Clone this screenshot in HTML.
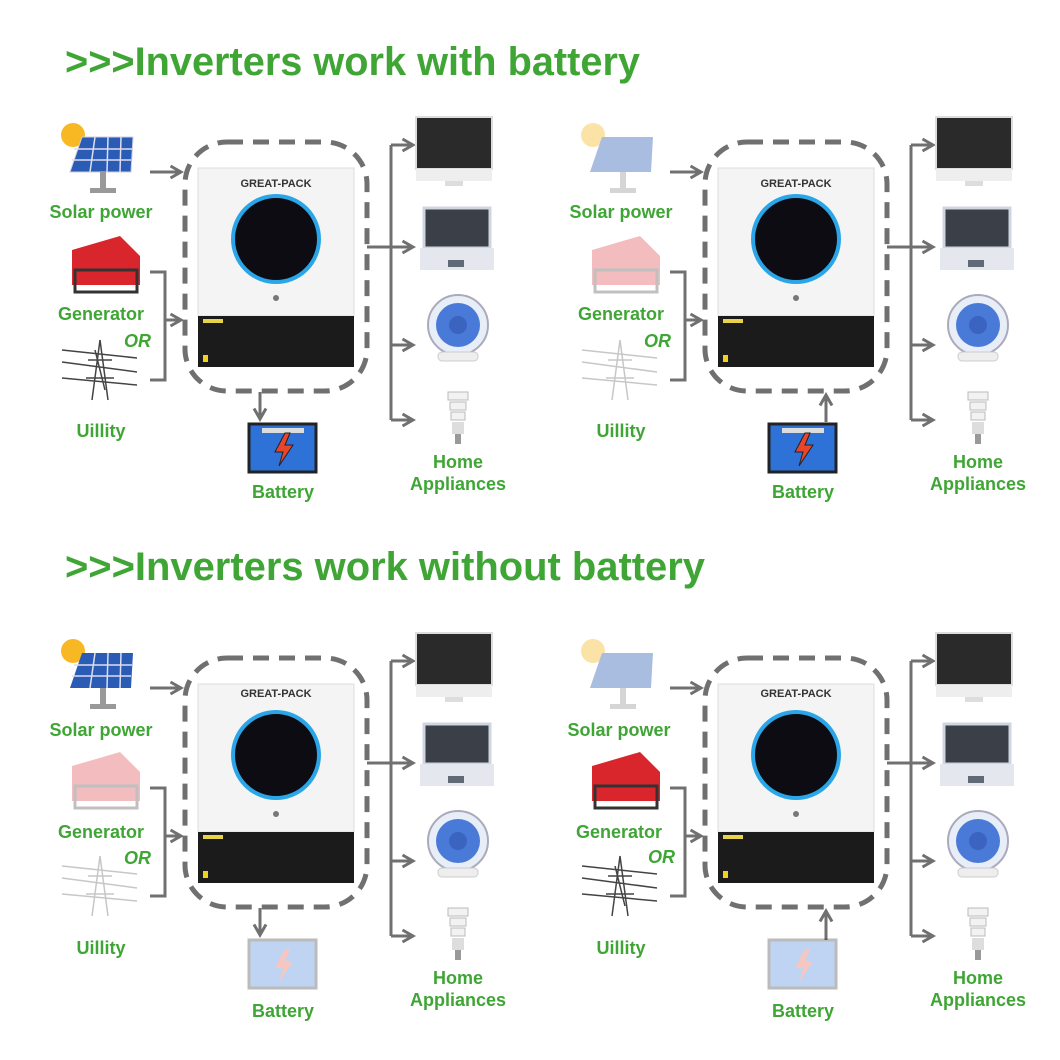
<!DOCTYPE html>
<html><head><meta charset="utf-8"><style>
html,body{margin:0;padding:0;background:#fff;}
svg{display:block}
.g{fill:#3fa535;font-family:"Liberation Sans",sans-serif;font-weight:bold;}
.t{font-size:18px;text-anchor:middle}
.ln{stroke:#707070;stroke-width:3;fill:none}
.dash{stroke:#707070;stroke-width:5;fill:none;stroke-dasharray:16 10}
</style></head><body>
<svg width="1060" height="1060" viewBox="0 0 1060 1060" xmlns="http://www.w3.org/2000/svg">
<defs>
<marker id="ah" viewBox="0 0 10 10" refX="8" refY="5" markerWidth="5" markerHeight="5" orient="auto"><path d="M1 1 L8 5 L1 9" fill="none" stroke="#707070" stroke-width="2"/></marker>
</defs>
<text x="65" y="75" class="g" font-size="40" textLength="575" lengthAdjust="spacingAndGlyphs">&gt;&gt;&gt;Inverters work with battery</text>
<text x="65" y="580" class="g" font-size="40" textLength="640" lengthAdjust="spacingAndGlyphs">&gt;&gt;&gt;Inverters work without battery</text>

<!-- PANEL TL -->
<g transform="translate(0,0)">
 <g opacity="1"><circle cx="73" cy="135" r="12" fill="#f7b824"/><path d="M70 172 L82 137 L133 137 L131 172Z" fill="#2a5bb5" stroke="#ccd" /><path d="M74 149H132M72 160H131M95 137L90 172M108 137L107 172M121 137L120 172" stroke="#dde" stroke-width="1.5"/><rect x="100" y="172" width="6" height="16" fill="#999"/><rect x="90" y="188" width="26" height="5" fill="#999"/></g>
 <text x="101" y="218" class="g t">Solar power</text>
 <g opacity="1"><path d="M72 250 L120 236 L140 256 L140 285 L72 285Z" fill="#d8262c"/><rect x="75" y="270" width="62" height="22" fill="none" stroke="#333" stroke-width="3"/></g>
 <text x="101" y="320" class="g t">Generator</text>
 <text x="124" y="347" class="g" font-size="18" font-style="italic">OR</text>
 <g opacity="1" stroke="#444" stroke-width="1.5" fill="none"><path d="M62 350L137 358M62 362L137 372M62 378L137 385M100 340L92 400M100 340L108 400M88 360L112 360M86 378L114 378M95 350L105 390"/></g>
 <text x="101" y="437" class="g t">Uillity</text>
 <path class="ln" d="M150 172H181" marker-end="url(#ah)"/>
 <path class="ln" d="M150 272H165V380H150M165 320H181" marker-end="url(#ah)"/>
 <rect x="185" y="142" width="182" height="249" rx="42" class="dash"/>
 <rect x="198" y="168" width="156" height="148" fill="#f4f4f4" stroke="#ddd"/><rect x="198" y="316" width="156" height="51" fill="#1b1b1b"/>
 <text x="276" y="187" font-family="Liberation Sans,sans-serif" font-weight="bold" font-size="11" text-anchor="middle" fill="#333">GREAT-PACK</text>
 <circle cx="276" cy="239" r="43" fill="#0c0c12" stroke="#2aa6e8" stroke-width="4"/><circle cx="276" cy="298" r="3" fill="#777"/>
 <rect x="203" y="319" width="20" height="4" fill="#e8d34a"/><rect x="203" y="355" width="5" height="7" fill="#f0d020"/>
 <path class="ln" d="M260 392V419" marker-end="url(#ah)"/>
 <g opacity="1"><rect x="249" y="424" width="67" height="48" fill="#2e72d8" stroke="#222" stroke-width="3"/><rect x="262" y="428" width="42" height="5" fill="#ddd"/><path d="M285 433L275 452H283L279 466L293 445H285L290 433Z" fill="#e8452a" stroke="#222"/></g>
 <text x="283" y="498" class="g t">Battery</text>
 <path class="ln" d="M367 247H391M391 145V420" />
 <path class="ln" d="M391 145H413M391 247H413M391 345H413M391 420H413" marker-end="url(#ah)"/>
 <path class="ln" d="M391 145H413" marker-end="url(#ah)"/><path class="ln" d="M391 247H413" marker-end="url(#ah)"/><path class="ln" d="M391 345H413" marker-end="url(#ah)"/>
 <rect x="416" y="117" width="76" height="52" fill="#2a2a2a" stroke="#ddd" stroke-width="2"/><rect x="416" y="169" width="76" height="12" fill="#eee"/><rect x="445" y="181" width="18" height="5" fill="#ddd"/>
 <rect x="424" y="208" width="66" height="40" fill="#3a3f48" stroke="#cfd6e0" stroke-width="3"/><rect x="420" y="248" width="74" height="22" fill="#e4e8ee"/><rect x="448" y="260" width="16" height="7" fill="#606a76"/>
 <circle cx="458" cy="325" r="30" fill="#e8eef8" stroke="#aab" stroke-width="2"/><circle cx="458" cy="325" r="22" fill="#4a7ad8"/><circle cx="458" cy="325" r="9" fill="#3a64c0"/><rect x="438" y="352" width="40" height="9" rx="4" fill="#eee" stroke="#ccc"/>
 <path d="M448 392h20v8h-20zM450 402h16v8h-16zM451 412h14v8h-14z" fill="#f2f2f2" stroke="#bbb"/><rect x="452" y="422" width="12" height="12" fill="#ddd"/><rect x="455" y="434" width="6" height="10" fill="#999"/>
 <text x="458" y="468" class="g t">Home</text><text x="458" y="490" class="g t">Appliances</text>
</g>

<!-- PANEL TR -->
<g transform="translate(520,0)">
 <g opacity="0.4"><circle cx="73" cy="135" r="12" fill="#f7b824"/><path d="M70 172 L82 137 L133 137 L131 172Z" fill="#2a5bb5"/><rect x="100" y="172" width="6" height="16" fill="#999"/><rect x="90" y="188" width="26" height="5" fill="#999"/></g>
 <text x="101" y="218" class="g t">Solar power</text>
 <g opacity="0.3"><path d="M72 250 L120 236 L140 256 L140 285 L72 285Z" fill="#d8262c"/><rect x="75" y="270" width="62" height="22" fill="none" stroke="#333" stroke-width="3"/></g>
 <text x="101" y="320" class="g t">Generator</text>
 <text x="124" y="347" class="g" font-size="18" font-style="italic">OR</text>
 <g opacity="0.3" stroke="#444" stroke-width="1.5" fill="none"><path d="M62 350L137 358M62 362L137 372M62 378L137 385M100 340L92 400M100 340L108 400M88 360L112 360M86 378L114 378"/></g>
 <text x="101" y="437" class="g t">Uillity</text>
 <path class="ln" d="M150 172H181" marker-end="url(#ah)"/>
 <path class="ln" d="M150 272H165V380H150M165 320H181" marker-end="url(#ah)"/>
 <rect x="185" y="142" width="182" height="249" rx="42" class="dash"/>
 <rect x="198" y="168" width="156" height="148" fill="#f4f4f4" stroke="#ddd"/><rect x="198" y="316" width="156" height="51" fill="#1b1b1b"/>
 <text x="276" y="187" font-family="Liberation Sans,sans-serif" font-weight="bold" font-size="11" text-anchor="middle" fill="#333">GREAT-PACK</text>
 <circle cx="276" cy="239" r="43" fill="#0c0c12" stroke="#2aa6e8" stroke-width="4"/><circle cx="276" cy="298" r="3" fill="#777"/>
 <rect x="203" y="319" width="20" height="4" fill="#e8d34a"/><rect x="203" y="355" width="5" height="7" fill="#f0d020"/>
 <path class="ln" d="M306 422V395" marker-end="url(#ah)"/>
 <g opacity="1"><rect x="249" y="424" width="67" height="48" fill="#2e72d8" stroke="#222" stroke-width="3"/><rect x="262" y="428" width="42" height="5" fill="#ddd"/><path d="M285 433L275 452H283L279 466L293 445H285L290 433Z" fill="#e8452a" stroke="#222"/></g>
 <text x="283" y="498" class="g t">Battery</text>
 <path class="ln" d="M367 247H391M391 145V420" />
 <path class="ln" d="M391 145H413" marker-end="url(#ah)"/><path class="ln" d="M391 247H413" marker-end="url(#ah)"/><path class="ln" d="M391 345H413" marker-end="url(#ah)"/><path class="ln" d="M391 420H413" marker-end="url(#ah)"/>
 <rect x="416" y="117" width="76" height="52" fill="#2a2a2a" stroke="#ddd" stroke-width="2"/><rect x="416" y="169" width="76" height="12" fill="#eee"/><rect x="445" y="181" width="18" height="5" fill="#ddd"/>
 <rect x="424" y="208" width="66" height="40" fill="#3a3f48" stroke="#cfd6e0" stroke-width="3"/><rect x="420" y="248" width="74" height="22" fill="#e4e8ee"/><rect x="448" y="260" width="16" height="7" fill="#606a76"/>
 <circle cx="458" cy="325" r="30" fill="#e8eef8" stroke="#aab" stroke-width="2"/><circle cx="458" cy="325" r="22" fill="#4a7ad8"/><circle cx="458" cy="325" r="9" fill="#3a64c0"/><rect x="438" y="352" width="40" height="9" rx="4" fill="#eee" stroke="#ccc"/>
 <path d="M448 392h20v8h-20zM450 402h16v8h-16zM451 412h14v8h-14z" fill="#f2f2f2" stroke="#bbb"/><rect x="452" y="422" width="12" height="12" fill="#ddd"/><rect x="455" y="434" width="6" height="10" fill="#999"/>
 <text x="458" y="468" class="g t">Home</text><text x="458" y="490" class="g t">Appliances</text>
</g>

<!-- PANEL BL -->
<g transform="translate(0,516)">
 <g opacity="1"><circle cx="73" cy="135" r="12" fill="#f7b824"/><path d="M70 172 L82 137 L133 137 L131 172Z" fill="#2a5bb5"/><path d="M74 149H132M72 160H131M95 137L90 172M108 137L107 172M121 137L120 172" stroke="#dde" stroke-width="1.5"/><rect x="100" y="172" width="6" height="16" fill="#999"/><rect x="90" y="188" width="26" height="5" fill="#999"/></g>
 <text x="101" y="220" class="g t">Solar power</text>
 <g opacity="0.3"><path d="M72 250 L120 236 L140 256 L140 285 L72 285Z" fill="#d8262c"/><rect x="75" y="270" width="62" height="22" fill="none" stroke="#333" stroke-width="3"/></g>
 <text x="101" y="322" class="g t">Generator</text>
 <text x="124" y="348" class="g" font-size="18" font-style="italic">OR</text>
 <g opacity="0.3" stroke="#444" stroke-width="1.5" fill="none"><path d="M62 350L137 358M62 362L137 372M62 378L137 385M100 340L92 400M100 340L108 400M88 360L112 360M86 378L114 378"/></g>
 <text x="101" y="438" class="g t">Uillity</text>
 <path class="ln" d="M150 172H181" marker-end="url(#ah)"/>
 <path class="ln" d="M150 272H165V380H150M165 320H181" marker-end="url(#ah)"/>
 <rect x="185" y="142" width="182" height="249" rx="42" class="dash"/>
 <rect x="198" y="168" width="156" height="148" fill="#f4f4f4" stroke="#ddd"/><rect x="198" y="316" width="156" height="51" fill="#1b1b1b"/>
 <text x="276" y="181" font-family="Liberation Sans,sans-serif" font-weight="bold" font-size="11" text-anchor="middle" fill="#333">GREAT-PACK</text>
 <circle cx="276" cy="239" r="43" fill="#0c0c12" stroke="#2aa6e8" stroke-width="4"/><circle cx="276" cy="298" r="3" fill="#777"/>
 <rect x="203" y="319" width="20" height="4" fill="#e8d34a"/><rect x="203" y="355" width="5" height="7" fill="#f0d020"/>
 <path class="ln" d="M260 392V419" marker-end="url(#ah)"/>
 <g opacity="0.3"><rect x="249" y="424" width="67" height="48" fill="#2e72d8" stroke="#222" stroke-width="3"/><path d="M285 433L275 452H283L279 466L293 445H285L290 433Z" fill="#e8452a"/></g>
 <text x="283" y="501" class="g t">Battery</text>
 <path class="ln" d="M367 247H391M391 145V420" />
 <path class="ln" d="M391 145H413" marker-end="url(#ah)"/><path class="ln" d="M391 247H413" marker-end="url(#ah)"/><path class="ln" d="M391 345H413" marker-end="url(#ah)"/><path class="ln" d="M391 420H413" marker-end="url(#ah)"/>
 <rect x="416" y="117" width="76" height="52" fill="#2a2a2a" stroke="#ddd" stroke-width="2"/><rect x="416" y="169" width="76" height="12" fill="#eee"/><rect x="445" y="181" width="18" height="5" fill="#ddd"/>
 <rect x="424" y="208" width="66" height="40" fill="#3a3f48" stroke="#cfd6e0" stroke-width="3"/><rect x="420" y="248" width="74" height="22" fill="#e4e8ee"/><rect x="448" y="260" width="16" height="7" fill="#606a76"/>
 <circle cx="458" cy="325" r="30" fill="#e8eef8" stroke="#aab" stroke-width="2"/><circle cx="458" cy="325" r="22" fill="#4a7ad8"/><circle cx="458" cy="325" r="9" fill="#3a64c0"/><rect x="438" y="352" width="40" height="9" rx="4" fill="#eee" stroke="#ccc"/>
 <path d="M448 392h20v8h-20zM450 402h16v8h-16zM451 412h14v8h-14z" fill="#f2f2f2" stroke="#bbb"/><rect x="452" y="422" width="12" height="12" fill="#ddd"/><rect x="455" y="434" width="6" height="10" fill="#999"/>
 <text x="458" y="468" class="g t">Home</text><text x="458" y="490" class="g t">Appliances</text>
</g>

<!-- PANEL BR -->
<g transform="translate(520,516)">
 <g opacity="0.4"><circle cx="73" cy="135" r="12" fill="#f7b824"/><path d="M70 172 L82 137 L133 137 L131 172Z" fill="#2a5bb5"/><rect x="100" y="172" width="6" height="16" fill="#999"/><rect x="90" y="188" width="26" height="5" fill="#999"/></g>
 <text x="99" y="220" class="g t">Solar power</text>
 <g opacity="1"><path d="M72 250 L120 236 L140 256 L140 285 L72 285Z" fill="#d8262c"/><rect x="75" y="270" width="62" height="22" fill="none" stroke="#333" stroke-width="3"/></g>
 <text x="99" y="322" class="g t">Generator</text>
 <text x="128" y="347" class="g" font-size="18" font-style="italic">OR</text>
 <g opacity="1" stroke="#444" stroke-width="1.5" fill="none"><path d="M62 350L137 358M62 362L137 372M62 378L137 385M100 340L92 400M100 340L108 400M88 360L112 360M86 378L114 378M95 350L105 390"/></g>
 <text x="101" y="438" class="g t">Uillity</text>
 <path class="ln" d="M150 172H181" marker-end="url(#ah)"/>
 <path class="ln" d="M150 272H165V380H150M165 320H181" marker-end="url(#ah)"/>
 <rect x="185" y="142" width="182" height="249" rx="42" class="dash"/>
 <rect x="198" y="168" width="156" height="148" fill="#f4f4f4" stroke="#ddd"/><rect x="198" y="316" width="156" height="51" fill="#1b1b1b"/>
 <text x="276" y="181" font-family="Liberation Sans,sans-serif" font-weight="bold" font-size="11" text-anchor="middle" fill="#333">GREAT-PACK</text>
 <circle cx="276" cy="239" r="43" fill="#0c0c12" stroke="#2aa6e8" stroke-width="4"/><circle cx="276" cy="298" r="3" fill="#777"/>
 <rect x="203" y="319" width="20" height="4" fill="#e8d34a"/><rect x="203" y="355" width="5" height="7" fill="#f0d020"/>
 <path class="ln" d="M306 424V395" marker-end="url(#ah)"/>
 <g opacity="0.3"><rect x="249" y="424" width="67" height="48" fill="#2e72d8" stroke="#222" stroke-width="3"/><path d="M285 433L275 452H283L279 466L293 445H285L290 433Z" fill="#e8452a"/></g>
 <text x="283" y="501" class="g t">Battery</text>
 <path class="ln" d="M367 247H391M391 145V420" />
 <path class="ln" d="M391 145H413" marker-end="url(#ah)"/><path class="ln" d="M391 247H413" marker-end="url(#ah)"/><path class="ln" d="M391 345H413" marker-end="url(#ah)"/><path class="ln" d="M391 420H413" marker-end="url(#ah)"/>
 <rect x="416" y="117" width="76" height="52" fill="#2a2a2a" stroke="#ddd" stroke-width="2"/><rect x="416" y="169" width="76" height="12" fill="#eee"/><rect x="445" y="181" width="18" height="5" fill="#ddd"/>
 <rect x="424" y="208" width="66" height="40" fill="#3a3f48" stroke="#cfd6e0" stroke-width="3"/><rect x="420" y="248" width="74" height="22" fill="#e4e8ee"/><rect x="448" y="260" width="16" height="7" fill="#606a76"/>
 <circle cx="458" cy="325" r="30" fill="#e8eef8" stroke="#aab" stroke-width="2"/><circle cx="458" cy="325" r="22" fill="#4a7ad8"/><circle cx="458" cy="325" r="9" fill="#3a64c0"/><rect x="438" y="352" width="40" height="9" rx="4" fill="#eee" stroke="#ccc"/>
 <path d="M448 392h20v8h-20zM450 402h16v8h-16zM451 412h14v8h-14z" fill="#f2f2f2" stroke="#bbb"/><rect x="452" y="422" width="12" height="12" fill="#ddd"/><rect x="455" y="434" width="6" height="10" fill="#999"/>
 <text x="458" y="468" class="g t">Home</text><text x="458" y="490" class="g t">Appliances</text>
</g>
</svg>
</body></html>
